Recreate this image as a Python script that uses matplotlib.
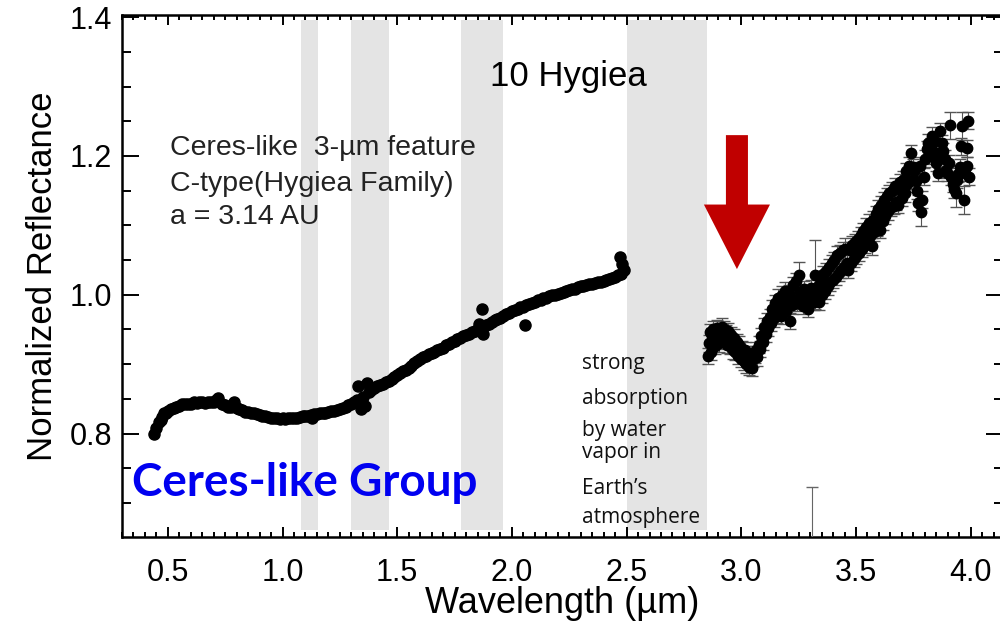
import numpy as np
import matplotlib
matplotlib.use('Agg')
import matplotlib.pyplot as plt
from matplotlib.patches import FancyArrow
from matplotlib.ticker import MultipleLocator

plt.rcParams['font.family'] = ['Liberation Sans', 'DejaVu Sans']

# visible/near-IR part of the spectrum (smooth)
wl_vis = [0.440, 0.450, 0.460, 0.468, 0.475, 0.483, 0.490, 0.500, 0.512, 0.525,
          0.537, 0.550, 0.562, 0.575, 0.587, 0.600, 0.612, 0.625, 0.637, 0.650,
          0.662, 0.675, 0.687, 0.700, 0.712, 0.720, 0.735, 0.750, 0.762, 0.775,
          0.790, 0.800, 0.812, 0.825, 0.837, 0.850, 0.862, 0.875, 0.887, 0.900,
          0.912, 0.925, 0.937, 0.950, 0.962, 0.975, 0.987, 1.000, 1.012, 1.025,
          1.037, 1.050, 1.062, 1.075, 1.087, 1.100, 1.112, 1.125, 1.130, 1.137,
          1.150, 1.162, 1.175, 1.187, 1.200, 1.212, 1.225, 1.237, 1.250, 1.262,
          1.275, 1.287, 1.300, 1.312, 1.325, 1.330, 1.340, 1.350, 1.360, 1.370,
          1.375, 1.387, 1.400, 1.412, 1.425, 1.437, 1.450, 1.462, 1.475, 1.487,
          1.500, 1.512, 1.525, 1.537, 1.550, 1.562, 1.575, 1.587, 1.600, 1.612,
          1.625, 1.637, 1.650, 1.662, 1.675, 1.687, 1.700, 1.712, 1.725, 1.737,
          1.750, 1.762, 1.775, 1.787, 1.800, 1.812, 1.825, 1.837, 1.850, 1.855,
          1.862, 1.870, 1.875, 1.887, 1.900, 1.912, 1.925, 1.937, 1.950, 1.962,
          1.975, 1.987, 2.000, 2.012, 2.025, 2.037, 2.050, 2.055, 2.062, 2.075,
          2.087, 2.100, 2.112, 2.125, 2.137, 2.150, 2.162, 2.175, 2.187, 2.200,
          2.212, 2.225, 2.237, 2.250, 2.262, 2.275, 2.287, 2.300, 2.312, 2.325,
          2.337, 2.350, 2.362, 2.375, 2.387, 2.400, 2.412, 2.425, 2.437, 2.450,
          2.462, 2.470, 2.475, 2.480, 2.490]
refl_vis = [0.800, 0.808, 0.816, 0.820, 0.824, 0.829, 0.830, 0.833, 0.836, 0.837,
            0.839, 0.840, 0.842, 0.842, 0.843, 0.843, 0.845, 0.844, 0.845, 0.845,
            0.844, 0.846, 0.845, 0.846, 0.848, 0.852, 0.843, 0.841, 0.838, 0.839,
            0.845, 0.837, 0.835, 0.834, 0.831, 0.831, 0.830, 0.829, 0.828, 0.827,
            0.826, 0.825, 0.824, 0.823, 0.822, 0.822, 0.821, 0.822, 0.821, 0.822,
            0.822, 0.823, 0.823, 0.824, 0.825, 0.826, 0.826, 0.827, 0.822, 0.828,
            0.828, 0.829, 0.829, 0.830, 0.831, 0.832, 0.833, 0.834, 0.835, 0.837,
            0.839, 0.841, 0.843, 0.845, 0.848, 0.869, 0.836, 0.853, 0.840, 0.873,
            0.860, 0.863, 0.866, 0.868, 0.870, 0.872, 0.874, 0.876, 0.878, 0.881,
            0.884, 0.887, 0.890, 0.892, 0.895, 0.898, 0.901, 0.904, 0.907, 0.910,
            0.912, 0.914, 0.916, 0.918, 0.920, 0.922, 0.924, 0.927, 0.929, 0.932,
            0.934, 0.936, 0.938, 0.940, 0.942, 0.944, 0.946, 0.948, 0.950, 0.958,
            0.952, 0.980, 0.943, 0.956, 0.958, 0.961, 0.963, 0.965, 0.967, 0.970,
            0.972, 0.974, 0.976, 0.978, 0.980, 0.982, 0.983, 0.957, 0.985, 0.987,
            0.988, 0.990, 0.992, 0.993, 0.995, 0.996, 0.998, 0.999, 1.000, 1.001,
            1.003, 1.004, 1.005, 1.007, 1.008, 1.009, 1.011, 1.012, 1.013, 1.014,
            1.015, 1.016, 1.017, 1.018, 1.019, 1.020, 1.022, 1.023, 1.024, 1.026,
            1.028, 1.054, 1.030, 1.044, 1.036]
err_vis = 0.004

# 3-micron region (noisy, beyond the telluric band)
wl_ir = [2.855, 2.860, 2.862, 2.868, 2.872, 2.878, 2.884, 2.890, 2.896, 2.902,
         2.908, 2.914, 2.920, 2.926, 2.932, 2.938, 2.944, 2.950, 2.956, 2.962,
         2.968, 2.974, 2.980, 2.986, 2.992, 2.998, 3.004, 3.010, 3.016, 3.022,
         3.028, 3.034, 3.040, 3.046, 3.052, 3.058, 3.064, 3.070, 3.076, 3.082,
         3.088, 3.094, 3.100, 3.106, 3.112, 3.118, 3.124, 3.130, 3.136, 3.142,
         3.148, 3.154, 3.160, 3.166, 3.172, 3.178, 3.184, 3.190, 3.196, 3.202,
         3.208, 3.214, 3.220, 3.226, 3.232, 3.238, 3.244, 3.250, 3.256, 3.262,
         3.268, 3.274, 3.280, 3.286, 3.292, 3.298, 3.304, 3.316, 3.322, 3.328,
         3.334, 3.340, 3.346, 3.352, 3.358, 3.364, 3.370, 3.376, 3.382, 3.388,
         3.394, 3.400, 3.406, 3.412, 3.418, 3.424, 3.430, 3.436, 3.442, 3.448,
         3.454, 3.460, 3.466, 3.472, 3.478, 3.484, 3.490, 3.496, 3.502, 3.508,
         3.514, 3.520, 3.526, 3.532, 3.538, 3.544, 3.550, 3.556, 3.562, 3.568,
         3.574, 3.580, 3.586, 3.592, 3.598, 3.604, 3.610, 3.616, 3.622, 3.628,
         3.634, 3.640, 3.646, 3.652, 3.658, 3.664, 3.670, 3.676, 3.682, 3.688,
         3.694, 3.700, 3.706, 3.712, 3.718, 3.724, 3.730, 3.736, 3.742, 3.748,
         3.754, 3.760, 3.766, 3.772, 3.778, 3.784, 3.790, 3.796, 3.802, 3.808,
         3.814, 3.820, 3.826, 3.832, 3.838, 3.844, 3.850, 3.856, 3.862, 3.868,
         3.874, 3.880, 3.886, 3.892, 3.898, 3.904, 3.910, 3.916, 3.922, 3.928,
         3.934, 3.940, 3.946, 3.952, 3.958, 3.964, 3.970, 3.976, 3.982, 3.986,
         3.990, 3.994]
refl_ir = [0.912, 0.930, 0.946, 0.918, 0.940, 0.950, 0.926, 0.944, 0.952, 0.930,
           0.948, 0.954, 0.934, 0.950, 0.944, 0.928, 0.948, 0.926, 0.942, 0.920,
           0.938, 0.918, 0.932, 0.912, 0.928, 0.908, 0.922, 0.904, 0.920, 0.900,
           0.914, 0.896, 0.912, 0.895, 0.908, 0.914, 0.920, 0.910, 0.928, 0.922,
           0.940, 0.932, 0.954, 0.944, 0.962, 0.952, 0.968, 0.960, 0.980, 0.966,
           0.988, 0.972, 0.996, 0.980, 0.970, 1.000, 0.984, 1.006, 0.976, 0.994,
           1.002, 0.962, 0.985, 1.014, 0.992, 1.020, 0.988, 1.029, 1.004, 0.994,
           0.984, 1.008, 0.992, 1.000, 0.980, 0.996, 1.010, 0.990, 1.029, 1.004,
           1.012, 0.990, 1.022, 1.000, 1.030, 1.006, 1.034, 1.012, 1.040, 1.018,
           1.046, 1.022, 1.050, 1.026, 1.058, 1.032, 1.060, 1.036, 1.064, 1.040,
           1.066, 1.046, 1.036, 1.064, 1.046, 1.072, 1.052, 1.076, 1.056, 1.080,
           1.060, 1.086, 1.066, 1.092, 1.072, 1.098, 1.078, 1.104, 1.084, 1.070,
           1.108, 1.090, 1.116, 1.096, 1.124, 1.094, 1.130, 1.106, 1.136, 1.114,
           1.142, 1.120, 1.146, 1.126, 1.150, 1.128, 1.156, 1.134, 1.130, 1.152,
           1.162, 1.140, 1.166, 1.146, 1.178, 1.160, 1.186, 1.164, 1.204, 1.184,
           1.178, 1.164, 1.150, 1.132, 1.186, 1.119, 1.137, 1.170, 1.196, 1.210,
           1.219, 1.200, 1.214, 1.229, 1.206, 1.222, 1.190, 1.176, 1.204, 1.236,
           1.218, 1.207, 1.196, 1.180, 1.176, 1.190, 1.244, 1.170, 1.160, 1.152,
           1.147, 1.166, 1.174, 1.184, 1.214, 1.243, 1.137, 1.176, 1.186, 1.211,
           1.251, 1.170]
err_ir = 0.012
# points with wider error bars
wide_err = {3.322: 0.05, 3.250: 0.018, 3.454: 0.016, 3.910: 0.02,
            3.964: 0.02, 3.970: 0.02, 3.934: 0.02, 3.784: 0.02}

# single low point whose error bar reaches into the plot
wl_low = [3.310]
refl_low = [0.600]
err_low = [0.123]

# telluric / masked regions (micron)
bands = [(1.080, 1.154), (1.298, 1.464), (1.778, 1.961), (2.502, 2.851)]

fig = plt.figure(figsize=(10, 6.27), dpi=100)
ax = fig.add_axes([0.122, 0.1435, 0.881, 0.8325])

for lo, hi in bands:
    ax.axvspan(lo, hi, ymin=0.013, ymax=0.99, color='#e4e4e4', lw=0, zorder=0)

ax.errorbar(wl_vis, refl_vis, yerr=err_vis, fmt='o', ms=8, mfc='k', mec='k',
            ecolor='#555555', elinewidth=0.8, capsize=3, zorder=3)

yerr_ir = [wide_err.get(w, err_ir) for w in wl_ir]
ax.errorbar(wl_ir, refl_ir, yerr=yerr_ir, fmt='o', ms=7.5, mfc='k', mec='k',
            ecolor='#555555', elinewidth=0.8, capsize=4, zorder=3)
ax.errorbar(wl_low, refl_low, yerr=err_low, fmt='o', ms=7.5, mfc='k', mec='k',
            ecolor='#666666', elinewidth=0.8, capsize=4, zorder=3)

ax.set_xlim(0.30, 4.141)
ax.set_ylim(0.651, 1.403)

ax.xaxis.set_major_locator(MultipleLocator(0.5))
ax.xaxis.set_minor_locator(MultipleLocator(0.05))
ax.yaxis.set_major_locator(MultipleLocator(0.2))
ax.yaxis.set_minor_locator(MultipleLocator(0.05))
ax.xaxis.set_major_formatter(plt.FormatStrFormatter('%.1f'))
ax.yaxis.set_major_formatter(plt.FormatStrFormatter('%.1f'))

ax.tick_params(which='both', direction='in', top=True, right=True, width=1.4,
               labelsize=22)
ax.tick_params(axis='x', which='major', length=7, pad=15)
ax.tick_params(axis='x', which='minor', length=3.5)
ax.tick_params(axis='y', which='major', length=12, pad=7)
ax.tick_params(axis='y', which='minor', length=6.5)
for s in ax.spines.values():
    s.set_linewidth(1.8)

ax.set_xlabel('Wavelength (\u00b5m)', fontsize=26, labelpad=-1)
ax.set_ylabel('Normalized Reflectance', fontsize=25, labelpad=8)

ax.text(2.244, 1.314, '10 Hygiea', fontsize=25, ha='center', va='center')

info_lines = ['Ceres-like  3-\u00b5m feature', 'C-type(Hygiea Family)', 'a = 3.14 AU']
info_y = [1.211, 1.160, 1.112]
for line, yy in zip(info_lines, info_y):
    ax.text(0.509, yy, line, fontsize=20.5, ha='left', va='center', color='#222222')

ax.text(0.343, 0.729, 'Ceres-like Group', fontsize=33, fontweight='bold',
        family=['Lato', 'DejaVu Sans'], color='#0000f0', ha='left', va='center')

note_lines = ['strong', 'absorption', 'by water', 'vapor in', 'Earth\u2019s', 'atmosphere']
note_y = [0.901, 0.851, 0.804, 0.773, 0.721, 0.679]
for line, yy in zip(note_lines, note_y):
    ax.text(2.305, yy, line, fontsize=15, family=['Open Sans', 'DejaVu Sans'],
            ha='left', va='center', color='#111111')

# red arrow pointing at the 3-micron band
arrow = FancyArrow(2.981, 1.230, 0, -0.193, width=0.096, head_width=0.288,
                   head_length=0.093, length_includes_head=True,
                   color='#c00000', lw=0, zorder=5)
ax.add_patch(arrow)

fig.savefig('out.png', dpi=100)
